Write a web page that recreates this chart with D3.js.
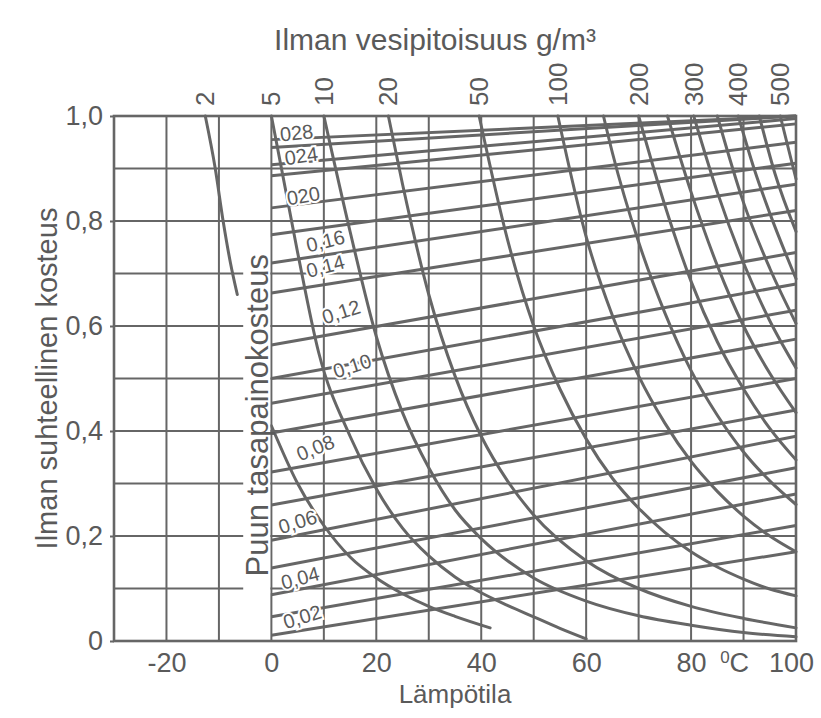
<!DOCTYPE html>
<html>
<head>
<meta charset="utf-8">
<script src="https://d3js.org/d3.v7.min.js"></script>
<style>
	body { margin: 0; background: #fff; }
	svg text { font-family: "Liberation Sans", Arial, Helvetica, sans-serif; fill: #5a5a5a; }
</style>
</head>
<body>
<div class="container"></div>
<script>
"use strict";

// axis ticks
const tempTicks = [-20, 0, 20, 40, 60, 80, 100]
const rhTicks = [0, 0.2, 0.4, 0.6, 0.8, 1.0]
const rhTickLabels = ["0", "0,2", "0,4", "0,6", "0,8", "1,0"]

// wood equilibrium moisture lines: relative humidity at 0 °C and at 100 °C
const emcStart = [0.011, 0.046, 0.088, 0.139, 0.192, 0.259, 0.322, 0.396, 0.453, 0.500, 0.564, 0.663, 0.720, 0.774, 0.825, 0.886, 0.907, 0.940, 0.955]
const emcEnd = [0.170, 0.220, 0.280, 0.330, 0.390, 0.440, 0.500, 0.575, 0.630, 0.680, 0.740, 0.820, 0.870, 0.910, 0.950, 0.985, 0.995, 1.000, 1.000]

// labels of those lines (temperature, humidity where they sit)
const emcLabelText = ["0,02", "0,04", "0,06", "0,08", "0,10", "0,12", "0,14", "0,16", "020", "024", "028"]
const emcLabelT = [5.9, 5.5, 5.0, 8.4, 15.4, 13.3, 10.3, 10.3, 6.1, 5.7, 4.8]
const emcLabelRH = [0.046, 0.120, 0.227, 0.368, 0.524, 0.627, 0.714, 0.762, 0.848, 0.924, 0.968]

// water content curves g/m3 (temperature list, humidity list)
const w2aT = [-12.6, -10.7, -9.2, -7.8, -6.5]
const w2aRH = [1.0, 0.9, 0.8, 0.72, 0.66]
const w2bT = [0, 5, 10, 15, 20, 25, 30, 35, 41.7]
const w2bRH = [0.41, 0.30, 0.22, 0.16, 0.12, 0.09, 0.066, 0.047, 0.025]
const w5T = [0, 5, 9, 15, 20, 25, 30, 35, 40, 45, 50, 55, 60]
const w5RH = [1.0, 0.74, 0.55, 0.39, 0.29, 0.215, 0.162, 0.122, 0.092, 0.068, 0.046, 0.024, 0.004]
const w10T = [10, 15, 20, 25, 30, 35, 40, 50, 60, 70, 80, 90, 100]
const w10RH = [1.0, 0.78, 0.58, 0.435, 0.33, 0.25, 0.195, 0.12, 0.076, 0.048, 0.03, 0.016, 0.008]
const w20T = [22.3, 25, 30, 35, 40, 45, 50, 60, 70, 80, 90, 100]
const w20RH = [1.0, 0.87, 0.66, 0.505, 0.39, 0.305, 0.24, 0.153, 0.1, 0.066, 0.043, 0.025]
const w50T = [39.6, 45, 50, 55, 60, 65, 70, 75, 80, 85, 90, 95, 100]
const w50RH = [1.0, 0.765, 0.6, 0.48, 0.385, 0.31, 0.253, 0.207, 0.17, 0.141, 0.118, 0.099, 0.086]
const w100T = [54.6, 60, 65, 70, 75, 80, 85, 90, 95, 100]
const w100RH = [1.0, 0.77, 0.62, 0.505, 0.415, 0.342, 0.285, 0.238, 0.2, 0.17]
const w150T = [63.3, 65, 70, 75, 80, 85, 90, 95, 100]
const w150RH = [1.0, 0.93, 0.76, 0.625, 0.515, 0.43, 0.36, 0.305, 0.26]
const w200T = [70, 75, 80, 85, 90, 95, 100]
const w200RH = [1.0, 0.83, 0.685, 0.57, 0.48, 0.405, 0.345]
const w250T = [75.5, 80, 85, 90, 95, 100]
const w250RH = [1.0, 0.855, 0.715, 0.6, 0.51, 0.435]
const w300T = [80.5, 85, 90, 95, 100]
const w300RH = [1.0, 0.855, 0.72, 0.61, 0.52]
const w350T = [85, 90, 95, 100]
const w350RH = [1.0, 0.835, 0.71, 0.605]
const w400T = [89, 92, 95, 100]
const w400RH = [1.0, 0.9, 0.815, 0.69]
const w450T = [93, 96, 100]
const w450RH = [1.0, 0.89, 0.78]
const w500T = [97, 100]
const w500RH = [1.0, 0.88]

// only these curves get a number on top
const waterLabels = ["2", "5", "10", "20", "50", "100", "200", "300", "400", "500"]

const curves = [
	{ name: "2", T: w2aT, RH: w2aRH },
	{ name: "2b", T: w2bT, RH: w2bRH },
	{ name: "5", T: w5T, RH: w5RH },
	{ name: "10", T: w10T, RH: w10RH },
	{ name: "20", T: w20T, RH: w20RH },
	{ name: "50", T: w50T, RH: w50RH },
	{ name: "100", T: w100T, RH: w100RH },
	{ name: "150", T: w150T, RH: w150RH },
	{ name: "200", T: w200T, RH: w200RH },
	{ name: "250", T: w250T, RH: w250RH },
	{ name: "300", T: w300T, RH: w300RH },
	{ name: "350", T: w350T, RH: w350RH },
	{ name: "400", T: w400T, RH: w400RH },
	{ name: "450", T: w450T, RH: w450RH },
	{ name: "500", T: w500T, RH: w500RH }
]

const p = {
	width: 821,
	height: 718,
	left: 114,
	right: 25,
	top: 116,
	bottom: 77,
	lineColor: "#666"
}

const svg = d3.select(".container")
	.append("svg")
	.attr("width", p.width)
	.attr("height", p.height)

const x = d3.scaleLinear().domain([-30, 100]).range([p.left, p.width - p.right])
const y = d3.scaleLinear().domain([0, 1]).range([p.height - p.bottom, p.top])

// grid
const grid = svg.append("g").attr("stroke", p.lineColor).attr("stroke-width", 2)
grid.selectAll(".gx").data(d3.range(-30, 101, 10)).join("line")
	.attr("x1", d => x(d)).attr("x2", d => x(d))
	.attr("y1", y(0)).attr("y2", y(1))
grid.selectAll(".gy").data(d3.range(0, 11).map(d => d / 10)).join("line")
	.attr("x1", x(-30)).attr("x2", x(100))
	.attr("y1", d => y(d)).attr("y2", d => y(d))

// frame
svg.append("rect")
	.attr("x", x(-30)).attr("y", y(1))
	.attr("width", x(100) - x(-30)).attr("height", y(0) - y(1))
	.attr("fill", "none").attr("stroke", p.lineColor).attr("stroke-width", 2.6)

// equilibrium moisture lines
svg.append("g").selectAll("line").data(emcStart).join("line")
	.attr("x1", x(0)).attr("y1", d => y(d))
	.attr("x2", x(100)).attr("y2", (d, i) => y(emcEnd[i]))
	.attr("stroke", p.lineColor).attr("stroke-width", 3)

// water content curves
const line = d3.line()
	.x(d => x(d[0]))
	.y(d => y(d[1]))
	.curve(d3.curveMonotoneX)

svg.append("g").selectAll("path").data(curves).join("path")
	.attr("d", c => line(c.T.map((t, i) => [t, c.RH[i]])))
	.attr("fill", "none")
	.attr("stroke", p.lineColor).attr("stroke-width", 3)
	.attr("stroke-linecap", "round")

// numbers on top of the curves
svg.append("g").selectAll("text")
	.data(curves.filter(c => waterLabels.includes(c.name)))
	.join("text")
	.attr("transform", c => `translate(${x(c.T[0]) + 9},${y(1) - 10}) rotate(-90)`)
	.attr("font-size", 26)
	.text(c => c.name)

// labels of the moisture lines, tilted with a white halo
const emcLabelAngle = [-17, -15, -17, -22, -18, -18, -15, -14, -10, -8, -6]
svg.append("g").selectAll("text").data(emcLabelText).join("text")
	.attr("transform", (d, i) => `translate(${x(emcLabelT[i])},${y(emcLabelRH[i])}) rotate(${emcLabelAngle[i]})`)
	.attr("text-anchor", "middle")
	.attr("dy", "0.35em")
	.attr("font-size", 20)
	.attr("stroke", "#fff").attr("stroke-width", 4).attr("paint-order", "stroke")
	.text(d => d)

// "Puun tasapainokosteus" with white box behind it
const puun = svg.append("g")
	.attr("transform", `translate(${x(-2.7)},${y(0.43)}) rotate(-90)`)
puun.append("rect")
	.attr("x", -178).attr("y", -14).attr("width", 356).attr("height", 27)
	.attr("fill", "#fff")
puun.append("text")
	.attr("text-anchor", "middle")
	.attr("dy", "0.36em")
	.attr("font-size", 31)
	.text("Puun tasapainokosteus")

// y axis
const yAxis = svg.append("g")
	.attr("transform", `translate(${x(-30)},0)`)
	.call(d3.axisLeft(y).tickValues(rhTicks).tickFormat((d, i) => rhTickLabels[i]).tickSize(4).tickPadding(7))
yAxis.select(".domain").remove()
yAxis.selectAll("line").attr("stroke", p.lineColor).attr("stroke-width", 2)
yAxis.selectAll("text").attr("font-size", 27).attr("fill", "#5a5a5a")

// x axis
const xAxis = svg.append("g")
	.attr("transform", `translate(0,${y(0)})`)
	.call(d3.axisBottom(x).tickValues(tempTicks).tickFormat(d => String(d)).tickSize(0).tickPadding(12))
xAxis.select(".domain").remove()
xAxis.selectAll("text").attr("font-size", 27).attr("fill", "#5a5a5a")
	.attr("dx", d => d === 100 ? -5 : 0)

// unit
const unit = svg.append("text")
	.attr("x", x(88.3)).attr("y", y(0) + 31)
	.attr("text-anchor", "middle")
	.attr("font-size", 27)
unit.append("tspan").attr("font-size", 17).attr("dy", -9).text("0")
unit.append("tspan").attr("dy", 9).text("C")

// titles
svg.append("text")
	.attr("x", (x(-30) + x(100)) / 2).attr("y", p.height - 15)
	.attr("text-anchor", "middle").attr("font-size", 26)
	.text("Lämpötila")

svg.append("text")
	.attr("transform", `translate(${x(-30) - 67},${(y(0) + y(1)) / 2}) rotate(-90)`)
	.attr("text-anchor", "middle").attr("dy", "0.35em").attr("font-size", 29)
	.text("Ilman suhteellinen kosteus")

svg.append("text")
	.attr("x", 435).attr("y", 50)
	.attr("text-anchor", "middle").attr("font-size", 30)
	.text("Ilman vesipitoisuus g/m³")
</script>
</body>
</html>
